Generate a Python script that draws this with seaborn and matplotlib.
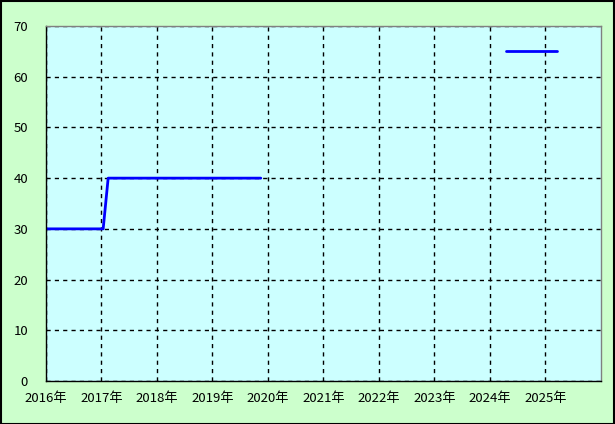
import numpy as np
import pandas as pd
import seaborn as sns
import matplotlib.pyplot as plt

# values (fractional years)
seg1_x = [2016.0, 2017.03, 2017.12, 2019.87]
seg1_y = [30, 30, 40, 40]
seg2_x = [2024.29, 2025.2]
seg2_y = [65, 65]

years = list(range(2016, 2026))
year_labels = [f"{y}年" for y in years]
y_ticks = list(range(0, 71, 10))

df = pd.concat([
    pd.DataFrame({'x': seg1_x, 'y': seg1_y, 'seg': 1}),
    pd.DataFrame({'x': seg2_x, 'y': seg2_y, 'seg': 2}),
])

sns.set_style('white')
plt.rcParams['font.family'] = ['Noto Sans CJK JP', 'DejaVu Sans']

fig = plt.figure(figsize=(6.15, 4.24), dpi=100, facecolor='#CCFFCC')
ax = fig.add_axes([46 / 615, 43 / 424, 555 / 615, 355 / 424])
ax.set_facecolor('#CCFFFF')

sns.lineplot(data=df, x='x', y='y', units='seg', estimator=None,
             color='#0000FF', linewidth=2, ax=ax)

ax.set_xlim(2016, 2026)
ax.set_ylim(0, 70)
ax.set_xticks(years)
ax.set_xticklabels(year_labels)
ax.set_yticks(y_ticks)
ax.tick_params(length=0, labelsize=9.5, colors='black')
ax.tick_params(axis='x', pad=8)
ax.tick_params(axis='y', pad=13)
ax.set_xlabel('')
ax.set_ylabel('')
ax.grid(True, color='black', linestyle=(0, (3, 3)), linewidth=1)

for side in ['left', 'bottom']:
    ax.spines[side].set_color('black')
    ax.spines[side].set_linewidth(1)
for side in ['top', 'right']:
    ax.spines[side].set_color('#808080')
    ax.spines[side].set_linewidth(1)

# outer frame
fig.patches.append(plt.Rectangle((0.001, 0.001), 0.997, 0.997, transform=fig.transFigure,
                                 fill=False, edgecolor='black', linewidth=1.5))

fig.savefig('out.png', dpi=100, facecolor=fig.get_facecolor())
